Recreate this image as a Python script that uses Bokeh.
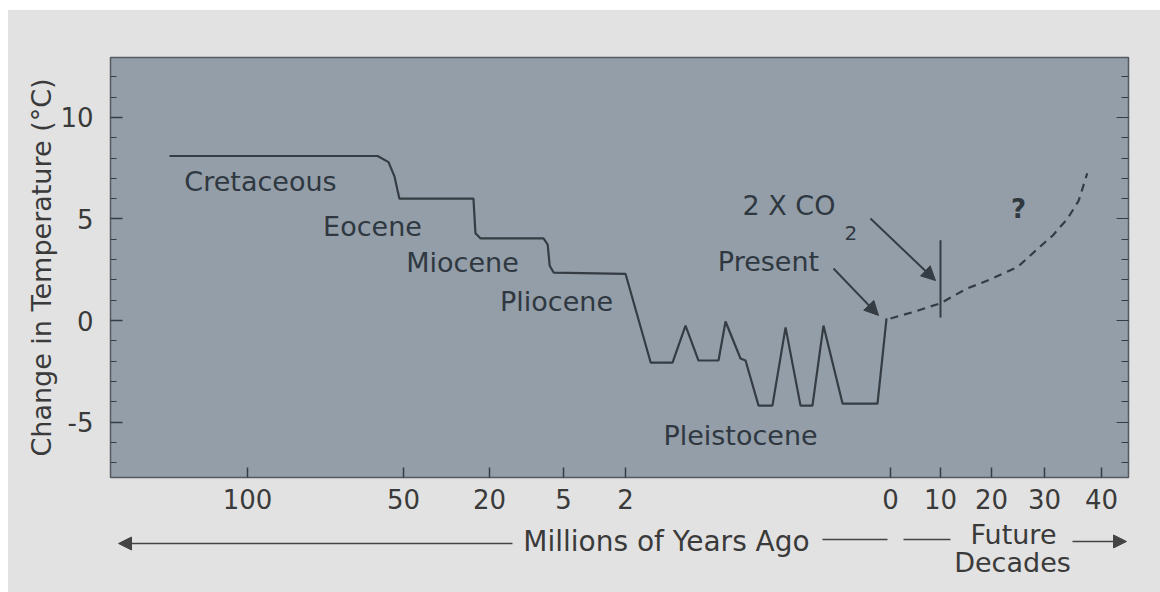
import numpy as np
from bokeh.plotting import figure
from bokeh.layouts import column
from bokeh.models import (Range1d, LinearAxis, FixedTicker, SingleIntervalTicker,
                          Label, Arrow, NormalHead, ColumnDataSource)
from bokeh.embed import file_html
from bokeh.resources import INLINE

# ---------------- data ----------------
# past record: millions of years ago vs temperature change (deg C)
past_myr = [125, 58.3, 54.8, 52.9, 51.9, 51.3, 25.6, 24.9, 23.1, 9.05, 8.2, 7.8, 7.0,
            2.0, 1.81, 1.645, 1.547, 1.449, 1.298, 1.245, 1.132, 1.094, 0.996, 0.891,
            0.792, 0.679, 0.589, 0.506, 0.362, 0.098, 0.03]
past_temp = [8.1, 8.1, 7.8, 7.1, 6.4, 6.0, 6.0, 4.3, 4.04, 4.04, 3.74, 2.7, 2.36,
             2.3, -2.07, -2.07, -0.25, -1.97, -1.97, -0.05, -1.87, -1.97, -4.19, -4.19,
             -0.34, -4.19, -4.19, -0.25, -4.09, -4.09, 0.1]

# projection: future decades vs temperature change (dashed)
future_dec = [0, 5, 10, 15, 20, 25, 29, 31.5, 34, 36, 37.5]
future_temp = [0.1, 0.45, 0.85, 1.55, 2.05, 2.65, 3.6, 4.2, 5.0, 5.9, 7.25]

# 2 x CO2 marker (decade, low, high)
co2_dec = [10]
co2_low = [0.15]
co2_high = [3.95]

# axis tick anchors (piecewise scale)
past_tick_myr = [100, 50, 20, 5, 2, 0]
past_tick_labels = ["100", "50", "20", "5", "2", "0"]
fut_tick_dec = [10, 20, 30, 40]
fut_tick_labels = ["10", "20", "30", "40"]
y_ticks = [-5, 0, 5, 10]
y_tick_labels = ["-5", "0", "5", "10"]

# ---------------- piecewise scale ----------------
PAST_POS = [137, 293, 379, 453, 515, 780]
FUT_DEC_ANCH = [0, 10, 20, 30, 40]
FUT_POS = [780, 830, 881, 934, 991]


def pos_past(m):
    m = np.asarray(m, dtype=float)
    xs = np.array(past_tick_myr[::-1], dtype=float)
    ps = np.array(PAST_POS[::-1], dtype=float)
    out = np.interp(m, xs, ps)
    slope = (PAST_POS[1] - PAST_POS[0]) / (past_tick_myr[0] - past_tick_myr[1])
    out = np.where(m > past_tick_myr[0], PAST_POS[0] - (m - past_tick_myr[0]) * slope, out)
    return out


def pos_fut(d):
    d = np.asarray(d, dtype=float)
    return np.interp(d, FUT_DEC_ANCH, FUT_POS)


PLOT_BG = "#939ea8"
OUTER_BG = "#e2e2e2"
INK = "#353c44"
TXT = "#3a3a3a"
FONT = "DejaVu Sans"
FRAME = "#555a60"
BORDER_L, BORDER_R = 102, 32

p = figure(width=1152, height=509, output_backend="svg", toolbar_location=None,
           x_range=Range1d(0, 1018), y_range=Range1d(-7.73, 12.95),
           min_border_left=BORDER_L, min_border_right=BORDER_R, min_border_top=47,
           min_border_bottom=42,
           background_fill_color=PLOT_BG, border_fill_color=OUTER_BG,
           outline_line_color=FRAME, outline_line_width=1.5)
p.xgrid.visible = False
p.ygrid.visible = False

# x axis with custom ticks
ticks = [int(v) for v in list(pos_past(past_tick_myr)) + list(pos_fut(fut_tick_dec))]
labels = past_tick_labels + fut_tick_labels
xa = p.xaxis[0]
xa.ticker = FixedTicker(ticks=ticks, minor_ticks=[])
xa.major_label_overrides = {t: l for t, l in zip(ticks, labels)}
xa.major_tick_in = 10
xa.major_tick_out = 0
xa.minor_tick_in = 0
xa.minor_tick_out = 0
xa.major_tick_line_color = INK
xa.major_tick_line_width = 1.5
xa.axis_line_color = FRAME
xa.major_label_text_font = FONT
xa.major_label_text_font_size = "26px"
xa.major_label_text_color = TXT
xa.major_label_standoff = 11

# y axis
ya = p.yaxis[0]
ya.ticker = SingleIntervalTicker(interval=5, num_minor_ticks=5)
ya.major_label_overrides = {t: l for t, l in zip(y_ticks, y_tick_labels)}
ya.major_tick_in = 12
ya.major_tick_out = 0
ya.minor_tick_in = 6
ya.minor_tick_out = 0
ya.major_tick_line_color = INK
ya.minor_tick_line_color = INK
ya.major_tick_line_width = 1.3
ya.axis_line_color = FRAME
ya.major_label_text_font = FONT
ya.major_label_text_font_size = "26px"
ya.major_label_text_color = TXT
ya.major_label_standoff = 17
ya.axis_label = "Change in Temperature (°C)"
ya.axis_label_text_font = FONT
ya.axis_label_text_font_size = "27px"
ya.axis_label_text_font_style = "normal"
ya.axis_label_text_color = TXT
ya.axis_label_standoff = 0

# right axis (ticks only)
ra = LinearAxis(ticker=SingleIntervalTicker(interval=5, num_minor_ticks=5))
ra.major_tick_in = 12
ra.major_tick_out = 0
ra.minor_tick_in = 7
ra.minor_tick_out = 0
ra.major_tick_line_color = INK
ra.minor_tick_line_color = INK
ra.axis_line_color = FRAME
ra.major_label_text_color = None
ra.major_label_text_font_size = "8px"
ra.major_label_standoff = 0
p.add_layout(ra, "right")

# ---------------- series ----------------
src_past = ColumnDataSource(dict(x=pos_past(past_myr), y=past_temp))
p.line("x", "y", source=src_past, line_color=INK, line_width=2.2)

src_fut = ColumnDataSource(dict(x=pos_fut(future_dec), y=future_temp))
p.line("x", "y", source=src_fut, line_color=INK, line_width=2.2, line_dash="8 6")

src_co2 = ColumnDataSource(dict(x=pos_fut(co2_dec), y0=co2_low, y1=co2_high))
p.segment(x0="x", y0="y0", x1="x", y1="y1", source=src_co2, line_color=INK, line_width=2)


# ---------------- annotations ----------------
def lab(fig, x, y, text, size="27px", align="center", style="normal", color="#2f3840"):
    fig.add_layout(Label(x=x, y=y, text=text, text_font=FONT, text_font_size=size,
                         text_align=align, text_baseline="middle", text_color=color,
                         text_font_style=style))


lab(p, 150, 6.84, "Cretaceous")
lab(p, 262, 4.63, "Eocene")
lab(p, 352, 2.86, "Miocene")
lab(p, 446, 0.94, "Pliocene")
lab(p, 630, -5.66, "Pleistocene")
lab(p, 658, 2.90, "Present")
lab(p, 632, 5.66, "2 X CO", align="left")
lab(p, 734, 4.33, "2", size="20px", align="left")
lab(p, 908, 5.51, "?", size="26px", style="bold")

# arrows to Present and 2xCO2
for (xs, ys, xe, ye) in [(723, 2.56, 768, 0.25), (760, 5.02, 825, 1.97)]:
    p.add_layout(Arrow(x_start=xs, y_start=ys, x_end=xe, y_end=ye, line_color=INK,
                       line_width=2,
                       end=NormalHead(size=14, fill_color=INK, line_color=INK)))

# ---------------- bottom caption strip (same x scale as the chart) ----------------
p2 = figure(width=1152, height=73, output_backend="svg", toolbar_location=None,
            x_range=p.x_range, y_range=Range1d(-13.393, -9.798),
            x_axis_type=None, y_axis_type=None, min_border=0,
            min_border_left=BORDER_L, min_border_right=BORDER_R,
            min_border_top=0, min_border_bottom=0,
            background_fill_color=None, border_fill_color=OUTER_BG,
            outline_line_color=None)
p2.xgrid.visible = False
p2.ygrid.visible = False

lab(p2, 556, -10.88, "Millions of Years Ago", size="28px", color=TXT)
lab(p2, 903, -10.55, "Future", size="27px", color=TXT)
lab(p2, 902, -11.92, "Decades", size="27px", color=TXT)
AR = "#444444"
p2.add_layout(Arrow(x_start=402, y_start=-10.98, x_end=8, y_end=-10.98, line_color=AR,
                    line_width=1.6, end=NormalHead(size=13, fill_color=AR, line_color=AR)))
p2.add_layout(Arrow(x_start=712, y_start=-10.78, x_end=777, y_end=-10.78, line_color=AR,
                    line_width=1.6, end=None))
p2.add_layout(Arrow(x_start=793, y_start=-10.78, x_end=840, y_end=-10.78, line_color=AR,
                    line_width=1.6, end=None))
p2.add_layout(Arrow(x_start=962, y_start=-10.88, x_end=1016, y_end=-10.88, line_color=AR,
                    line_width=1.6, end=NormalHead(size=13, fill_color=AR, line_color=AR)))

layout = column(p, p2, spacing=0, margin=(10, 0, 0, 8),
                styles={"background-color": OUTER_BG})

open("out.html", "w").write(file_html(layout, INLINE))
